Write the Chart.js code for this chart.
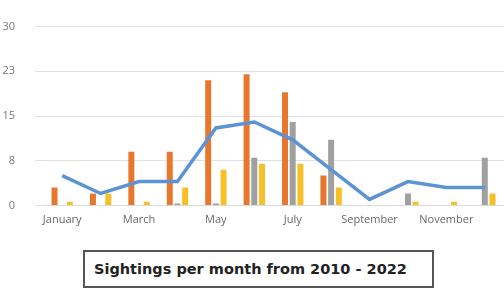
<!DOCTYPE html>
<html>
<head>
<meta charset="utf-8">
<script src="https://cdn.jsdelivr.net/npm/chart.js@4.4.0/dist/chart.umd.min.js"></script>
<style>
  body { margin: 0; background: #fff; width: 504px; height: 294px; overflow: hidden; position: relative; }
  #grafico { position: absolute; left: 0; top: 0; }
  #titulo {
    position: absolute; left: 83px; top: 250px; width: 351px; height: 38px;
    border: 2px solid #555; background: #fff; box-sizing: border-box;
    font-family: "DejaVu Sans", sans-serif; font-weight: bold; font-size: 14.5px;
    color: #222; line-height: 34px; padding-left: 9px; white-space: nowrap;
  }
</style>
</head>
<body>
<canvas id="grafico" width="504" height="232"></canvas>
<div id="titulo">Sightings per month from 2010 - 2022</div>
<script>
// dados
const meses = ["January", "February", "March", "April", "May", "June", "July",
  "August", "September", "October", "November", "December"];
const laranja = [3, 2, 9, 9, 21, 22, 19, 5, 0, 0, 0, 0];
const cinza = [0, 0, 0, 0.3, 0.3, 8, 14, 11, 0, 2, 0, 8];
const amarelo = [0.6, 2, 0.6, 3, 6, 7, 7, 3, 0, 0.6, 0.6, 2];
const media = [5, 2, 4, 4, 13, 14, 11, 6, 1, 4, 3, 3];
const yTicks = [0, 7.5, 15, 22.5, 30];
const yLabels = ["0", "8", "15", "23", "30"];

const fonteEixo = { family: "Open Sans", size: 11 };

new Chart(document.getElementById("grafico"), {
  type: "bar",
  data: {
    labels: meses,
    datasets: [
      { data: laranja, backgroundColor: "#e8772e", order: 1 },
      { data: cinza, backgroundColor: "#a0a0a0", order: 1 },
      { data: amarelo, backgroundColor: "#f6c026", order: 1 },
      {
        type: "line", data: media, borderColor: "#5b93d3", borderWidth: 3.5,
        pointRadius: 0, tension: 0, order: 0
      }
    ]
  },
  options: {
    responsive: false,
    animation: false,
    // o chart.js ainda soma meia altura do rotulo do topo
    layout: { padding: { top: 13, right: 0, left: 0, bottom: 0 } },
    datasets: { bar: { categoryPercentage: 0.6, barPercentage: 0.78 } },
    plugins: { legend: { display: false }, tooltip: { enabled: false } },
    scales: {
      x: {
        grid: { display: false },
        border: { color: "#d9d9d9" },
        ticks: {
          color: "#666", font: fonteEixo, maxRotation: 0, autoSkip: false, padding: 0,
          callback: (v, i) => (i % 2 === 0 ? meses[i] : "")
        },
        afterFit: s => { s.height = 25; }
      },
      y: {
        min: 0, max: 30,
        grid: { color: "#e0e0e0", lineWidth: 1 },
        border: { display: false },
        afterBuildTicks: s => { s.ticks = yTicks.map(v => ({ value: v })); },
        ticks: {
          color: "#777", font: fonteEixo, padding: 20,
          callback: (v) => yLabels[yTicks.indexOf(v)]
        },
        afterFit: s => { s.width = 43; }
      }
    }
  }
});
</script>
</body>
</html>
